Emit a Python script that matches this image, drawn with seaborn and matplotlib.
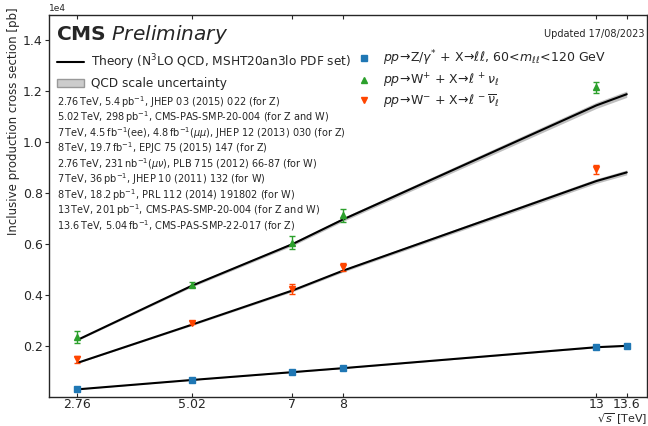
import matplotlib
matplotlib.use("Agg")
import matplotlib.pyplot as plt
import seaborn as sns
import pandas as pd
import numpy as np
from matplotlib.lines import Line2D
from matplotlib.patches import Patch

sns.set_style("ticks")
plt.rcParams['font.family'] = ['DejaVu Sans']
plt.rcParams['mathtext.fontset'] = 'dejavusans'

# ---- data (pb) ----
energies = [2.76, 5.02, 7, 8, 13, 13.6]
tick_labels = ["2.76", "5.02", "7", "8", "13", "13.6"]

z_theory = [300, 668, 975, 1132, 1955, 2010]
z_band = [6, 9, 12, 14, 22, 23]
wp_theory = [2240, 4370, 6000, 6970, 11450, 11890]
wp_band = [28, 50, 65, 75, 120, 125]
wm_theory = [1340, 2840, 4180, 4960, 8480, 8820]
wm_band = [18, 34, 48, 55, 90, 95]

z_E = [2.76, 5.02, 7, 8, 13, 13.6]
z_xs = [298, 669, 974, 1138, 1952, 2010]
z_err = [12, 15, 25, 30, 40, 40]

wp_E = [2.76, 5.02, 7, 8, 13]
wp_xs = [2360, 4410, 6060, 7130, 12160]
wp_err = [240, 100, 260, 240, 220]

wm_E = [2.76, 5.02, 7, 8, 13]
wm_xs = [1480, 2910, 4250, 5100, 8940]
wm_err = [140, 60, 200, 160, 180]

refs = [
    r"2.76$\,$TeV, 5.4$\,$pb$^{-1}$, JHEP 03 (2015) 022 (for Z)",
    r"5.02$\,$TeV, 298$\,$pb$^{-1}$, CMS-PAS-SMP-20-004 (for Z and W)",
    r"7$\,$TeV, 4.5$\,$fb$^{-1}$(ee), 4.8$\,$fb$^{-1}$($\mu\mu$), JHEP 12 (2013) 030 (for Z)",
    r"8$\,$TeV, 19.7$\,$fb$^{-1}$, EPJC 75 (2015) 147 (for Z)",
    r"2.76$\,$TeV, 231$\,$nb$^{-1}$($\mu\nu$), PLB 715 (2012) 66-87 (for W)",
    r"7$\,$TeV, 36$\,$pb$^{-1}$, JHEP 10 (2011) 132 (for W)",
    r"8$\,$TeV, 18.2$\,$pb$^{-1}$, PRL 112 (2014) 191802 (for W)",
    r"13$\,$TeV, 201$\,$pb$^{-1}$, CMS-PAS-SMP-20-004 (for Z and W)",
    r"13.6$\,$TeV, 5.04$\,$fb$^{-1}$, CMS-PAS-SMP-22-017 (for Z)",
]

c_z = "#1f77b4"
c_wp = "#2ca02c"
c_wm = "#ff4500"

fig = plt.figure(figsize=(6.48, 4.26), dpi=100)
ax = fig.add_axes([49/648, 29/426, 598/648, 382/426])

theory = pd.DataFrame({
    "E": energies * 3,
    "xs": z_theory + wp_theory + wm_theory,
    "proc": ["Z"] * 6 + ["W+"] * 6 + ["W-"] * 6,
})
for th, bd in [(z_theory, z_band), (wp_theory, wp_band), (wm_theory, wm_band)]:
    lo = [t - b for t, b in zip(th, bd)]
    hi = [t + b for t, b in zip(th, bd)]
    ax.fill_between(energies, lo, hi, color="#b0b0b0", alpha=0.8, lw=0, zorder=1)
sns.lineplot(data=theory, x="E", y="xs", units="proc", estimator=None,
             color="black", lw=1.5, ax=ax, zorder=2, legend=False)

ax.errorbar(z_E, z_xs, yerr=z_err, fmt="s", color=c_z, ms=4.5, capsize=2, elinewidth=1, zorder=3)
ax.errorbar(wp_E, wp_xs, yerr=wp_err, fmt="^", color=c_wp, ms=5, capsize=2, elinewidth=1, zorder=3)
ax.errorbar(wm_E, wm_xs, yerr=wm_err, fmt="v", color=c_wm, ms=5, capsize=2, elinewidth=1, zorder=3)

ax.set_xlim(2.2, 14.0)
ax.set_ylim(0, 15000)
ax.set_xticks(energies)
ax.set_xticklabels(tick_labels)
ax.set_yticks([2000, 4000, 6000, 8000, 10000, 12000, 14000])
ax.ticklabel_format(axis="y", style="sci", scilimits=(4, 4))
ax.yaxis.get_offset_text().set_fontsize(6.5)
ax.tick_params(axis="both", labelsize=9)
ax.tick_params(axis="x", direction="in", top=True, length=3, pad=1)
ax.tick_params(axis="y", direction="out", length=3, pad=1.5)
ax.tick_params(axis="y", which="both", right=True)
ax.set_xlabel(r"$\sqrt{s}$ [TeV]", fontsize=8, loc="right")
ax.xaxis.set_label_coords(1.0, -0.037)
ax.set_ylabel("Inclusive production cross section [pb]", fontsize=8.5, loc="top")
ax.yaxis.set_label_coords(-0.049, 1.02)
for s in ax.spines.values():
    s.set_linewidth(1.0)

ax.text(0.012, 0.95, r"$\bf{CMS}$ $\it{Preliminary}$", transform=ax.transAxes,
        fontsize=14.5, va="center", ha="left")
ax.text(0.995, 0.95, "Updated 17/08/2023", transform=ax.transAxes,
        fontsize=7, va="center", ha="right")

h1 = [Line2D([], [], color="black", lw=1.5),
      Patch(facecolor="#cccccc", edgecolor="#999999")]
leg1 = ax.legend(h1, ["Theory (N$^3$LO QCD, MSHT20an3lo PDF set)", "QCD scale uncertainty"],
                 loc="upper left", bbox_to_anchor=(0.0, 0.925), frameon=False,
                 fontsize=8.7, handlelength=2.2, handletextpad=0.6,
                 labelspacing=0.45, borderaxespad=0.3)
ax.add_artist(leg1)

h2 = [Line2D([], [], color=c_z, marker="s", ms=4.5, ls="none"),
      Line2D([], [], color=c_wp, marker="^", ms=5, ls="none"),
      Line2D([], [], color=c_wm, marker="v", ms=5, ls="none")]
lab2 = [r"$pp\!\rightarrow\!$Z/$\gamma^{*}$ + X$\!\rightarrow\!\ell\ell$, 60$\!<\!m_{\ell\ell}\!<\!$120 GeV",
        r"$pp\!\rightarrow\!$W$^{+}$ + X$\!\rightarrow\!\ell^{\,+}\nu_{\ell}$",
        r"$pp\!\rightarrow\!$W$^{-}$ + X$\!\rightarrow\!\ell^{\,-}\overline{\nu}_{\ell}$"]
ax.legend(h2, lab2, loc="upper left", bbox_to_anchor=(0.5, 0.935), frameon=False,
          fontsize=9, handlelength=1.2, handletextpad=0.9, labelspacing=0.25, borderaxespad=0.3)

y0 = 0.772
for i, r in enumerate(refs):
    ax.text(0.013, y0 - i * 0.0405, r, transform=ax.transAxes, fontsize=7, va="center", ha="left")

fig.savefig("out.png", dpi=100)
